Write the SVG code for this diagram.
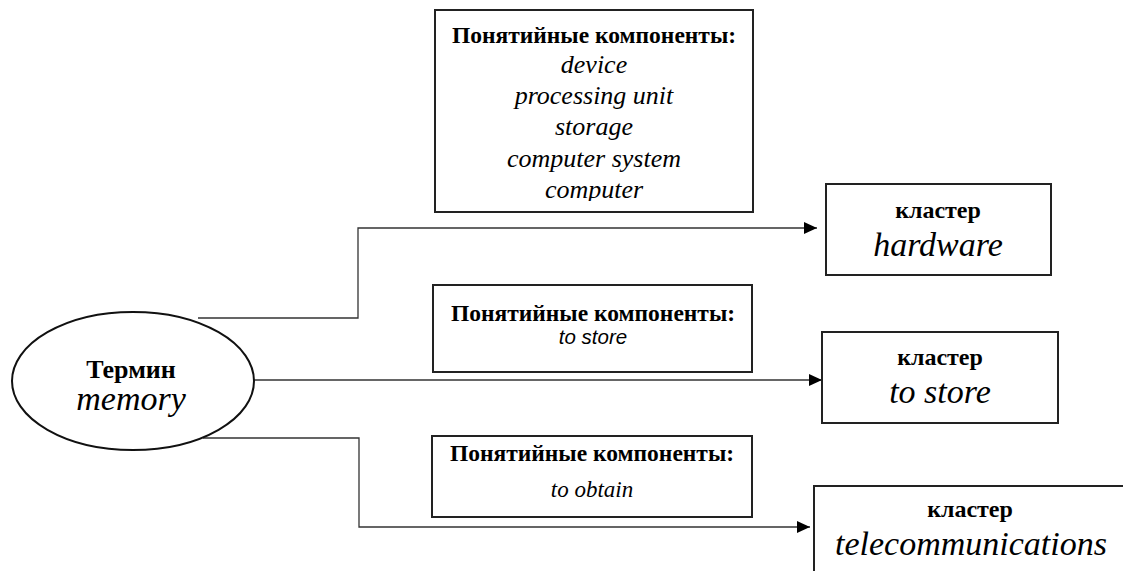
<svg xmlns="http://www.w3.org/2000/svg" width="1123" height="571" viewBox="0 0 1123 571">
<style>
.box{fill:#fff;stroke:#222;stroke-width:2}
.conn{fill:none;stroke:#333;stroke-width:1.3}
.b{font-family:'Liberation Serif','DejaVu Serif',serif;font-weight:bold;fill:#000;text-anchor:middle}
.i{font-family:'Liberation Serif','DejaVu Serif',serif;font-style:italic;fill:#000;text-anchor:middle}
.si{font-family:'Liberation Sans','DejaVu Sans',sans-serif;font-style:italic;fill:#000;text-anchor:middle}
</style>
<defs>
<marker id="arr" markerWidth="13" markerHeight="12" refX="13" refY="6" orient="auto" markerUnits="userSpaceOnUse">
<path d="M0,0 L13,6 L0,12 Z" fill="#000"/>
</marker>
<clipPath id="topclip"><rect x="435" y="10" width="318" height="191"/></clipPath>
</defs>
<g id="connectors">
<path class="conn" d="M198,318 H358 V228 H817" marker-end="url(#arr)"/>
<path class="conn" d="M253,380 H822" marker-end="url(#arr)"/>
<path class="conn" d="M203,438 H359 V527 H810" marker-end="url(#arr)"/>
</g>
<g id="term">
<ellipse cx="133" cy="381" rx="121" ry="69" fill="#fff" stroke="#111" stroke-width="2"/>
<text class="b" x="131" y="378" font-size="26">Термин</text>
<text class="i" x="131" y="410" font-size="34">memory</text>
</g>
<g id="components-top">
<rect class="box" x="435" y="10" width="318" height="202"/>
<g clip-path="url(#topclip)">
<text class="b" x="594" y="43" font-size="23.5">Понятийные компоненты:</text>
<text class="i" x="594" y="73" font-size="26">device</text>
<text class="i" x="594" y="104" font-size="26">processing unit</text>
<text class="i" x="594" y="135" font-size="26">storage</text>
<text class="i" x="594" y="167" font-size="26">computer system</text>
<text class="i" x="594" y="198" font-size="26">computer</text>
</g>
</g>
<g id="components-store">
<rect class="box" x="433" y="285" width="319" height="87"/>
<text class="b" x="593" y="321" font-size="23.5">Понятийные компоненты:</text>
<text class="si" x="593" y="344" font-size="20.5">to store</text>
</g>
<g id="components-obtain">
<rect class="box" x="432" y="436" width="320" height="81"/>
<text class="b" x="592" y="461" font-size="23.5">Понятийные компоненты:</text>
<text class="i" x="592" y="497" font-size="23">to obtain</text>
</g>
<g id="cluster-hardware">
<rect class="box" x="826" y="184" width="225" height="91"/>
<text class="b" x="938" y="218" font-size="24">кластер</text>
<text class="i" x="938" y="256" font-size="34">hardware</text>
</g>
<g id="cluster-store">
<rect class="box" x="822" y="332" width="236" height="91"/>
<text class="b" x="940" y="365" font-size="24">кластер</text>
<text class="i" x="940" y="403" font-size="34">to store</text>
</g>
<g id="cluster-telecom">
<rect class="box" x="814" y="486" width="320" height="100"/>
<text class="b" x="970" y="517" font-size="24">кластер</text>
<text class="i" x="971" y="555" font-size="34">telecommunications</text>
</g>
</svg>
